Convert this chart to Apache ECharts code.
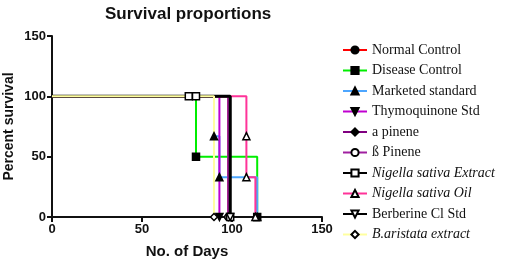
<!DOCTYPE html>
<html>
<head>
<meta charset="utf-8">
<script src="https://cdn.jsdelivr.net/npm/echarts@6/dist/echarts.min.js"></script>
<style>
  html, body { margin: 0; padding: 0; background: #fff; }
  #chart { width: 512px; height: 263px; }
</style>
</head>
<body>
<div id="chart"></div>
<script>
// groups, in legend order
const groupNames = ['Normal Control', 'Disease Control', 'Marketed standard', 'Thymoquinone Std',
  'a pinene', '\u00df Pinene', 'Nigella sativa Extract', 'Nigella sativa Oil', 'Berberine Cl Std', 'B.aristata extract'];
const italicNames = ['Nigella sativa Extract', 'Nigella sativa Oil', 'B.aristata extract'];

// Kaplan-Meier steps: days and percent survival
const normalDays = [0, 98], normalSurv = [100, 0];
const diseaseDays = [0, 80, 114], diseaseSurv = [100, 50, 0];
const marketedDays = [0, 90, 93, 114], marketedSurv = [100, 67, 33, 0];
const thymoDays = [0, 93], thymoSurv = [100, 0];
const aPineneDays = [0, 98], aPineneSurv = [100, 0];
const bPineneDays = [0, 98], bPineneSurv = [100, 0];
const extractDays = [0, 76, 80, 99], extractSurv = [100, 100, 100, 0];
const oilDays = [0, 108, 108, 113], oilSurv = [100, 67, 33, 0];
const berberineDays = [0, 99], berberineSurv = [100, 0];
const aristataDays = [0, 90], aristataSurv = [100, 0];

const xTicks = [0, 50, 100, 150];

const looks = [
  { days: normalDays, surv: normalSurv, color: '#ff0000', symbol: 'circle', fill: '#000' },
  { days: diseaseDays, surv: diseaseSurv, color: '#00ee00', symbol: 'rect', fill: '#000' },
  { days: marketedDays, surv: marketedSurv, color: '#4da6ff', symbol: 'triangle', fill: '#000' },
  { days: thymoDays, surv: thymoSurv, color: '#c000d0', symbol: 'triangle', fill: '#000', rotate: 180 },
  { days: aPineneDays, surv: aPineneSurv, color: '#800080', symbol: 'diamond', fill: '#000' },
  { days: bPineneDays, surv: bPineneSurv, color: '#a020a0', symbol: 'circle', fill: '#fff' },
  { days: extractDays, surv: extractSurv, color: '#000000', symbol: 'rect', fill: '#fff' },
  { days: oilDays, surv: oilSurv, color: '#ff3399', symbol: 'triangle', fill: '#fff' },
  { days: berberineDays, surv: berberineSurv, color: '#000000', symbol: 'triangle', fill: '#fff', rotate: 180, width: 3 },
  { days: aristataDays, surv: aristataSurv, color: '#ffffa0', symbol: 'diamond', fill: '#fff' }
];

const series = looks.map((g, k) => ({
  name: groupNames[k],
  type: 'line',
  step: 'end',
  clip: false,
  symbol: g.symbol,
  symbolSize: 7,
  symbolRotate: g.rotate || 0,
  lineStyle: { color: g.color, width: g.width || 2 },
  itemStyle: { color: g.fill, borderColor: '#000', borderWidth: 1.5 },
  emphasis: { disabled: true },
  data: g.days.map((d, i) => {
    const item = { value: [d, g.surv[i]] };
    if (i === 0) item.symbol = 'none';
    return item;
  })
}));

const chart = echarts.init(document.getElementById('chart'));
const boldAxis = { fontFamily: 'Liberation Sans, Arial', fontWeight: 'bold', fontSize: 13, color: '#111' };

chart.setOption({
  animation: false,
  title: {
    text: 'Survival proportions',
    left: 100, top: 1,
    textStyle: { fontFamily: 'Liberation Sans, Arial', fontWeight: 'bold', fontSize: 17, color: '#111' }
  },
  grid: { left: 52, right: 190, top: 36, bottom: 46, containLabel: false, outerBoundsMode: 'none' },
  legend: {
    orient: 'vertical', left: 337, top: 38, height: 222,
    itemWidth: 24, itemHeight: 9, itemGap: 6.5,
    data: groupNames.map(n => italicNames.includes(n) ? { name: n, textStyle: { fontStyle: 'italic' } } : n),
    textStyle: { fontFamily: 'Liberation Serif, Times New Roman', fontSize: 14, color: '#111' }
  },
  xAxis: {
    type: 'value', min: xTicks[0], max: xTicks[3], interval: 50,
    name: 'No. of Days', nameLocation: 'middle', nameGap: 27, nameMoveOverlap: false,
    nameTextStyle: { fontFamily: 'Liberation Sans, Arial', fontWeight: 'bold', fontSize: 15, color: '#111' },
    axisLine: { lineStyle: { color: '#111', width: 2 } },
    axisTick: { show: true, length: 5, lineStyle: { color: '#111', width: 2 } },
    axisLabel: Object.assign({ margin: 6 }, boldAxis),
    splitLine: { show: false }
  },
  yAxis: {
    type: 'value', min: 0, max: 150, interval: 50,
    name: 'Percent survival', nameLocation: 'middle', nameGap: 36, nameRotate: 90, nameMoveOverlap: false,
    nameTextStyle: { fontFamily: 'Liberation Sans, Arial', fontWeight: 'bold', fontSize: 14, color: '#111' },
    axisLine: { show: true, lineStyle: { color: '#111', width: 2 } },
    axisTick: { show: true, length: 5, lineStyle: { color: '#111', width: 2 } },
    axisLabel: Object.assign({ margin: 6 }, boldAxis),
    splitLine: { show: false }
  },
  series: series
});
</script>
</body>
</html>
